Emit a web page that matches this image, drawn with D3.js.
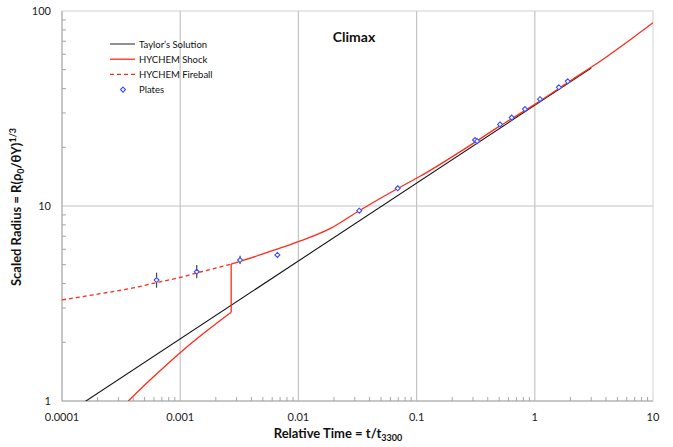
<!DOCTYPE html>
<html>
<head>
<meta charset="utf-8">
<script src="https://cdn.jsdelivr.net/npm/d3@7"></script>
<style>
  body { margin: 0; background: #fff; }
  svg { font-family: Lato, 'Open Sans', sans-serif; }
  .tick-label { font-size: 11px; fill: #222; }
  .axis-title { font-size: 13px; font-weight: bold; fill: #111; }
</style>
</head>
<body>
<svg id="chart" width="673" height="447"></svg>
<script>
// values
const taylor = [[0.0001, 0.83], [3, 51]];
// HYCHEM shock, before and after the jump at t = 0.0027
const shockLow = [
  [0.000364, 1.0], [0.000555, 1.28], [0.001, 1.77], [0.00162, 2.25], [0.0027, 2.85]
];
const shockHigh = [
  [0.0027, 5.04], [0.0032, 5.2], [0.0063, 5.95], [0.01, 6.56], [0.0185, 7.65],
  [0.0327, 9.46], [0.0692, 12.3], [0.107, 14.2], [0.257, 19.7],
  [0.5, 25.6], [1, 33.2], [2, 43.8], [4.06, 58.3], [6.38, 71], [10, 87]
];
const fireball = [
  [0.0001, 3.3], [0.00021, 3.55], [0.0004, 3.8], [0.00063, 4.05], [0.001, 4.3],
  [0.0014, 4.55], [0.002, 4.8], [0.0027, 5.04]
];
const plates = [
  [0.000631, 4.17], [0.00138, 4.6], [0.00321, 5.28], [0.00664, 5.61],
  [0.0327, 9.46], [0.0692, 12.33], [0.312, 21.8], [0.325, 21.5], [0.508, 26.2],
  [0.638, 28.4], [0.826, 31.4], [1.107, 35.3], [1.6, 40.6], [1.9, 43.6]
];
// error bars [t, low, high]
const plateErrors = [
  [0.000631, 3.81, 4.55], [0.00138, 4.26, 4.98], [0.00321, 5.04, 5.56]
];
const xTickLabels = ['0.0001', '0.001', '0.01', '0.1', '1', '10'];
const yTickLabels = ['1', '10', '100'];
const legendItems = ['Taylor\u2019s Solution', 'HYCHEM Shock', 'HYCHEM Fireball', 'Plates'];

const pLeft = 62, pRight = 653, pTop = 11, pBottom = 401;
const red = '#ff2a1a', blue = '#3a4dff', grid = '#c4c4c4', axisCol = '#a6a6a6';

const svg = d3.select('#chart');
const x = d3.scaleLog().domain([1e-4, 10]).range([pLeft, pRight]);
const y = d3.scaleLog().domain([1, 100]).range([pBottom, pTop]);

svg.append('defs').append('clipPath').attr('id', 'plot')
  .append('rect').attr('x', pLeft).attr('y', pTop)
  .attr('width', pRight - pLeft).attr('height', pBottom - pTop);

// grid lines at decades
const g = svg.append('g');
g.selectAll('.vg').data(xTickLabels.map(Number).slice(1, -1)).enter().append('line')
  .attr('x1', d => x(d)).attr('x2', d => x(d)).attr('y1', pTop).attr('y2', pBottom)
  .attr('stroke', grid).attr('stroke-width', 1.2);
g.selectAll('.hg').data([10]).enter().append('line')
  .attr('x1', pLeft).attr('x2', pRight).attr('y1', d => y(d)).attr('y2', d => y(d))
  .attr('stroke', grid).attr('stroke-width', 1.2);

// frame
svg.append('rect').attr('x', pLeft).attr('y', pTop)
  .attr('width', pRight - pLeft).attr('height', pBottom - pTop)
  .attr('fill', 'none').attr('stroke', '#d0d0d0');
svg.append('line').attr('x1', pLeft).attr('x2', pRight).attr('y1', pBottom).attr('y2', pBottom)
  .attr('stroke', axisCol);
svg.append('line').attr('x1', pLeft).attr('x2', pLeft).attr('y1', pTop).attr('y2', pBottom)
  .attr('stroke', axisCol);

// minor ticks (inside)
const xMinor = x.ticks().filter(t => Math.abs(Math.log10(t) % 1) > 1e-6);
svg.selectAll('.xm').data(xMinor).enter().append('line')
  .attr('x1', d => x(d)).attr('x2', d => x(d)).attr('y1', pBottom).attr('y2', pBottom - 4)
  .attr('stroke', axisCol);
const yMinor = y.ticks().filter(t => Math.abs(Math.log10(t) % 1) > 1e-6);
svg.selectAll('.ym').data(yMinor).enter().append('line')
  .attr('x1', pLeft).attr('x2', pLeft + 4).attr('y1', d => y(d)).attr('y2', d => y(d))
  .attr('stroke', axisCol);

// tick labels
svg.selectAll('.xl').data(xTickLabels).enter().append('text')
  .attr('class', 'tick-label')
  .attr('x', d => x(+d)).attr('y', pBottom + 20)
  .attr('text-anchor', 'middle').text(d => d);
svg.selectAll('.yl').data(yTickLabels).enter().append('text')
  .attr('class', 'tick-label')
  .attr('x', pLeft - 11).attr('y', d => y(+d) + 4)
  .attr('text-anchor', 'end').text(d => d);

// series
const line = d3.line().x(d => x(d[0])).y(d => y(d[1]));
const smooth = d3.line().curve(d3.curveMonotoneX).x(d => x(d[0])).y(d => y(d[1]));
const plot = svg.append('g').attr('clip-path', 'url(#plot)');
plot.append('path').datum(taylor).attr('d', line)
  .attr('fill', 'none').attr('stroke', '#111').attr('stroke-width', 1.1);
plot.append('path').datum(fireball).attr('d', smooth)
  .attr('fill', 'none').attr('stroke', red).attr('stroke-width', 1.3)
  .attr('stroke-dasharray', '4,3');
const jump = [shockLow[shockLow.length - 1], shockHigh[0]];
[shockLow, jump, shockHigh].forEach(seg => {
  plot.append('path').datum(seg).attr('d', seg === jump ? line : smooth)
    .attr('fill', 'none').attr('stroke', red).attr('stroke-width', 1.3);
});

plot.selectAll('.err').data(plateErrors).enter().append('line')
  .attr('x1', d => x(d[0])).attr('x2', d => x(d[0]))
  .attr('y1', d => y(d[1])).attr('y2', d => y(d[2]))
  .attr('stroke', '#444').attr('stroke-width', 1.2);

const diamond = d3.symbol().type(d3.symbolDiamond2).size(16);
plot.selectAll('.pt').data(plates).enter().append('path')
  .attr('d', diamond)
  .attr('transform', d => `translate(${x(d[0])},${y(d[1])})`)
  .attr('fill', '#fff').attr('stroke', blue).attr('stroke-width', 1.1);

// title
svg.append('text').attr('x', 354).attr('y', 42).attr('text-anchor', 'middle')
  .attr('font-size', 14).attr('font-weight', 'bold').attr('fill', '#111').text('Climax');

// legend
const lg = svg.append('g').attr('transform', 'translate(110,44)');
legendItems.forEach((name, i) => {
  const row = lg.append('g').attr('transform', `translate(0,${i * 15.2})`);
  if (i < 3) {
    row.append('line').attr('x1', 0).attr('x2', 25).attr('y1', 0).attr('y2', 0)
      .attr('stroke', i === 0 ? '#555' : red).attr('stroke-width', 1.3)
      .attr('stroke-dasharray', i === 2 ? '4,3' : null);
  } else {
    row.append('path').attr('d', diamond).attr('transform', 'translate(13,0)')
      .attr('fill', '#fff').attr('stroke', blue).attr('stroke-width', 1.1);
  }
  row.append('text').attr('x', 29).attr('y', 3.5).attr('font-size', 9.5).attr('fill', '#111').text(name);
});

// axis titles
const xt = svg.append('text').attr('class', 'axis-title')
  .attr('x', 338).attr('y', 438).attr('text-anchor', 'middle');
xt.append('tspan').text('Relative Time = t/t');
xt.append('tspan').attr('font-size', 9).attr('dy', 3).text('3300');

const yt = svg.append('text').attr('class', 'axis-title')
  .attr('transform', 'translate(21,207) rotate(-90)').attr('text-anchor', 'middle');
yt.append('tspan').text('Scaled Radius = R(\u03c1');
yt.append('tspan').attr('font-size', 9).attr('dy', 3).text('0');
yt.append('tspan').attr('dy', -3).text('/\u03b8Y)');
yt.append('tspan').attr('font-size', 9).attr('dy', -5).text('1/3');
</script>
</body>
</html>
